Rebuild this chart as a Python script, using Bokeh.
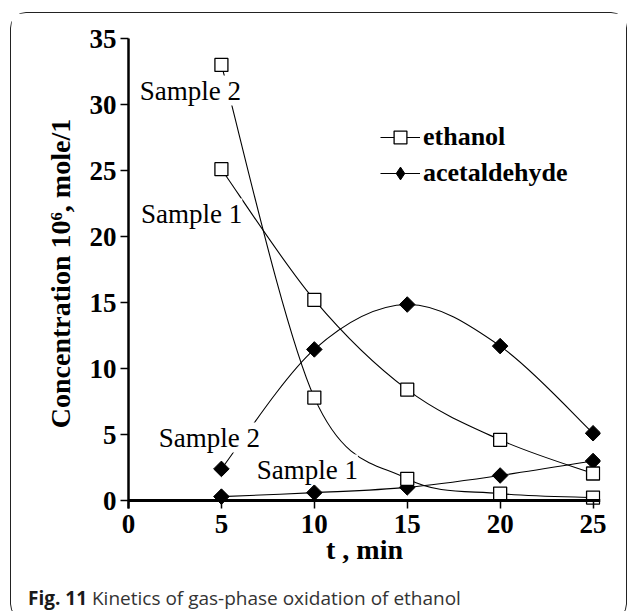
from bokeh.plotting import figure
from bokeh.models import (Label, Span, FixedTicker, Legend, LegendItem,
                          ColumnDataSource, Range1d, Div)
from bokeh.layouts import column
from bokeh.embed import file_html
from bokeh.resources import INLINE

# ---------------- data ----------------
t = [5, 10, 15, 20, 25]
ethanol_s1 = [25.1, 15.2, 8.4, 4.6, 2.05]
ethanol_s2 = [33.0, 7.8, 1.65, 0.53, 0.23]
acet_s1 = [0.3, 0.6, 1.0, 1.9, 3.0]
acet_s2 = [2.4, 11.45, 14.85, 11.7, 5.1]
x_ticks = [0, 5, 10, 15, 20, 25]
y_ticks = [0, 5, 10, 15, 20, 25, 30, 35]
series_names = ["ethanol", "acetaldehyde"]
sample_names = ["Sample 1", "Sample 2"]
caption_bold = "Fig. 11"
caption_text = "Kinetics of gas-phase oxidation of ethanol"

SERIF = "Liberation Serif"


def smooth_segments(x, y):
    """Bezier segments of a smoothed line through the points (Catmull-Rom style)."""
    n = len(x)
    d = dict(x0=[], y0=[], x1=[], y1=[], cx0=[], cy0=[], cx1=[], cy1=[])
    for i in range(n - 1):
        xp, yp = (x[i - 1], y[i - 1]) if i > 0 else (x[i], y[i])
        xn, yn = (x[i + 2], y[i + 2]) if i + 2 < n else (x[i + 1], y[i + 1])
        d["x0"].append(x[i]); d["y0"].append(y[i])
        d["x1"].append(x[i + 1]); d["y1"].append(y[i + 1])
        d["cx0"].append(x[i] + (x[i + 1] - xp) / 6.0)
        d["cy0"].append(y[i] + (y[i + 1] - yp) / 6.0)
        d["cx1"].append(x[i + 1] - (xn - x[i]) / 6.0)
        d["cy1"].append(y[i + 1] - (yn - y[i]) / 6.0)
    return ColumnDataSource(d)


p = figure(width=615, height=570,
           x_range=Range1d(0, 25.4), y_range=Range1d(-0.6, 35),
           output_backend="svg", toolbar_location=None,
           min_border_left=117, min_border_right=26,
           min_border_top=25, min_border_bottom=75)
p.outline_line_color = None
p.xgrid.visible = False
p.ygrid.visible = False
p.background_fill_color = "white"
p.border_fill_color = "white"

# axes
for ax in (p.xaxis, p.yaxis):
    ax.major_label_text_font = SERIF
    ax.major_label_text_font_style = "bold"
    ax.major_label_text_font_size = "27px"
    ax.major_label_text_color = "black"
    ax.axis_label_text_font = SERIF
    ax.axis_label_text_font_style = "bold"
    ax.axis_label_text_font_size = "28px"
    ax.axis_label_text_color = "black"
    ax.minor_tick_line_color = None
    ax.major_tick_line_color = "black"
    ax.major_tick_line_width = 1.5

p.xaxis.ticker = FixedTicker(ticks=x_ticks)
p.yaxis.ticker = FixedTicker(ticks=y_ticks)

p.yaxis.axis_line_width = 2.5
p.yaxis.axis_line_color = "black"
p.yaxis.major_tick_out = 8
p.yaxis.major_tick_in = 0
p.yaxis.major_label_standoff = 4
p.yaxis.axis_label = "Concentration 10\u2076, mole/1"
p.yaxis.axis_label_standoff = 11

p.xaxis.axis_line_color = None
p.xaxis.major_tick_in = 8
p.xaxis.major_tick_out = 0
p.xaxis.major_label_standoff = 6
p.xaxis.axis_label = "t , min"
p.xaxis.axis_label_standoff = -2

p.add_layout(Span(location=0, dimension="width", line_color="black", line_width=3))

# curves
curves = {}
for key, ys in (("e1", ethanol_s1), ("e2", ethanol_s2), ("a1", acet_s1), ("a2", acet_s2)):
    src = smooth_segments(t, ys)
    curves[key] = p.bezier(x0="x0", y0="y0", x1="x1", y1="y1",
                           cx0="cx0", cy0="cy0", cx1="cx1", cy1="cy1",
                           source=src, line_color="black", line_width=1.1)

markers = {}
for key, ys in (("a1", acet_s1), ("a2", acet_s2)):
    markers[key] = p.scatter(t, ys, marker="square", angle=0.785398, size=11,
                             fill_color="black", line_color="black", line_width=1)
for key, ys in (("e1", ethanol_s1), ("e2", ethanol_s2)):
    markers[key] = p.scatter(t, ys, marker="square", size=13,
                             fill_color="white", line_color="black", line_width=1.3)

# legend-only diamond (legends ignore marker angle), hidden on the plot
acet_legend_marker = p.scatter(t, acet_s1, marker="diamond", size=14,
                               fill_color="black", line_color="black", visible=False)

# sample labels
label_pos = [(3.33, 31.06, sample_names[1]), (3.40, 21.74, sample_names[0]),
             (4.35, 4.77, sample_names[1]), (9.62, 2.35, sample_names[0])]
for lx, ly, txt in label_pos:
    p.add_layout(Label(x=lx, y=ly, text=txt, text_align="center",
                       text_baseline="middle", text_font=SERIF,
                       text_font_size="27px", text_color="black",
                       background_fill_color="white"))

legend = Legend(items=[
    LegendItem(label=series_names[0], renderers=[curves["e1"], markers["e1"]]),
    LegendItem(label=series_names[1], renderers=[curves["a1"], acet_legend_marker]),
], location=(252, 319))
legend.label_text_font = SERIF
legend.label_text_font_style = "bold"
legend.label_text_font_size = "26px"
legend.label_text_color = "black"
legend.glyph_width = 40
legend.glyph_height = 32
legend.label_standoff = 3
legend.padding = 0
legend.spacing = 4
legend.margin = 0
legend.border_line_color = None
legend.background_fill_alpha = 0
legend.click_policy = "none"
p.add_layout(legend, "center")

# caption
cap = Div(text=f'<span style="font-weight:bold;color:#1a1a1a">{caption_bold}</span> {caption_text}',
          width=603, height=26,
          styles={"font-family": "Open Sans", "font-size": "19px", "color": "#333333",
                  "padding-left": "12px", "line-height": "20px", "white-space": "nowrap"})

page = column(p, cap, spacing=0,
              styles={"margin-left": "10px", "margin-top": "12px",
                      "border": "1.3px solid #222", "border-radius": "16px"})

open("out.html", "w").write(file_html(page, INLINE))
